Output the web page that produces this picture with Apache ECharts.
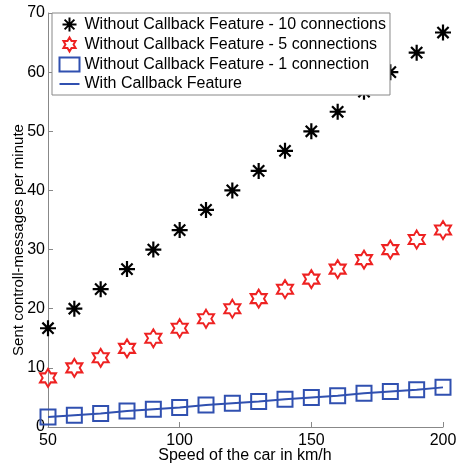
<!DOCTYPE html>
<html><head><meta charset="utf-8">
<script src="https://cdn.jsdelivr.net/npm/echarts@6/dist/echarts.min.js"></script>
<style>html,body{margin:0;padding:0;background:#fff}#c{width:457px;height:466px}</style>
</head><body><div id="c"></div>
<script>
const speeds = [50,60,70,80,90,100,110,120,130,140,150,160,170,180,190,200];
const conn10 = [16.7,20,23.3,26.7,30,33.3,36.7,40,43.3,46.7,50,53.3,56.7,60,63.3,66.7];
const conn5 = [8.3,10,11.7,13.3,15,16.7,18.3,20,21.7,23.3,25,26.7,28.3,30,31.7,33.3];
const conn1 = [1.7,2,2.3,2.7,3,3.3,3.7,4,4.3,4.7,5,5.3,5.7,6,6.3,6.7];
const callback = [1.7,2,2.3,2.7,3,3.3,3.7,4,4.3,4.7,5,5.3,5.7,6,6.3,6.7];
const names = ['Without Callback Feature - 10 connections','Without Callback Feature - 5 connections','Without Callback Feature - 1 connection','With Callback Feature'];
const yTitle = 'Sent controll-messages per minute';
const xTitle = 'Speed of the car in km/h';

const pair = arr => speeds.map((s,i)=>[s,arr[i]]);
const asterisk = 'path://M0,-1L0,1M-1,0L1,0M-0.7,-0.7L0.7,0.7M-0.7,0.7L0.7,-0.7';
const hexagram = 'path://M0,-1L0.289,-0.5L0.866,-0.5L0.577,0L0.866,0.5L0.289,0.5L0,1L-0.289,0.5L-0.866,0.5L-0.577,0L-0.866,-0.5L-0.289,-0.5Z';
const lineIcon = 'path://M0,0L20,0L20,2L0,2Z';
const blue = '#3050b0', red = '#ee2222';
const font = 'Liberation Sans, Arial, sans-serif';

const chart = echarts.init(document.getElementById('c'));
chart.setOption({
  animation:false,
  textStyle:{fontFamily:font},
  grid:{left:48,right:14,top:13,bottom:39,containLabel:false,outerBoundsMode:'none'},
  legend:{
    orient:'vertical', left:52, top:13, itemGap:1, itemWidth:20, itemHeight:14,
    backgroundColor:'#fff', borderColor:'#888', borderWidth:1, borderRadius:0,
    padding:[2,4,2,5],
    textStyle:{fontSize:16, lineHeight:18, color:'#000', fontFamily:font},
    data:[
      {name:names[0], icon:asterisk, itemStyle:{color:'none',borderColor:'#000',borderWidth:2}},
      {name:names[1], icon:hexagram, itemStyle:{color:'none',borderColor:red,borderWidth:2}},
      {name:names[2], icon:'rect', itemStyle:{color:'none',borderColor:blue,borderWidth:2}},
      {name:names[3], icon:lineIcon, itemStyle:{color:blue,borderWidth:0}}
    ]
  },
  graphic:[
    {type:'text',x:19,y:240,rotation:Math.PI/2,
      style:{text:yTitle,fontSize:15,fill:'#000',fontFamily:font,align:'center',verticalAlign:'middle'}},
    {type:'text',x:245,y:456,
      style:{text:xTitle,fontSize:16,fill:'#000',fontFamily:font,align:'center',verticalAlign:'middle'}}
  ],
  xAxis:{type:'value',min:50,max:200,interval:50,
    axisLine:{lineStyle:{color:'#888'}},
    axisTick:{inside:true,length:5,lineStyle:{color:'#888'}},
    axisLabel:{fontSize:16,color:'#000',margin:6,fontFamily:font},
    splitLine:{show:false}},
  yAxis:{type:'value',min:0,max:70,interval:10,
    axisLine:{show:true,lineStyle:{color:'#888'}},
    axisTick:{show:true,inside:true,length:5,lineStyle:{color:'#888'}},
    axisLabel:{fontSize:16,color:'#000',margin:3,fontFamily:font},
    splitLine:{show:false}},
  series:[
    {name:names[3],type:'line',data:pair(callback),showSymbol:false,symbol:'none',
      lineStyle:{color:blue,width:2},itemStyle:{color:blue},z:2},
    {name:names[2],type:'scatter',data:pair(conn1),symbol:'rect',symbolSize:15,
      itemStyle:{color:'none',borderColor:blue,borderWidth:2,opacity:1},z:3},
    {name:names[1],type:'scatter',data:pair(conn5),symbol:hexagram,symbolSize:[16,18],
      itemStyle:{color:'none',borderColor:red,borderWidth:2,opacity:1},z:3},
    {name:names[0],type:'scatter',data:pair(conn10),symbol:asterisk,symbolSize:16,
      itemStyle:{color:'none',borderColor:'#000',borderWidth:2.2,opacity:1},z:3}
  ]
});
</script></body></html>
